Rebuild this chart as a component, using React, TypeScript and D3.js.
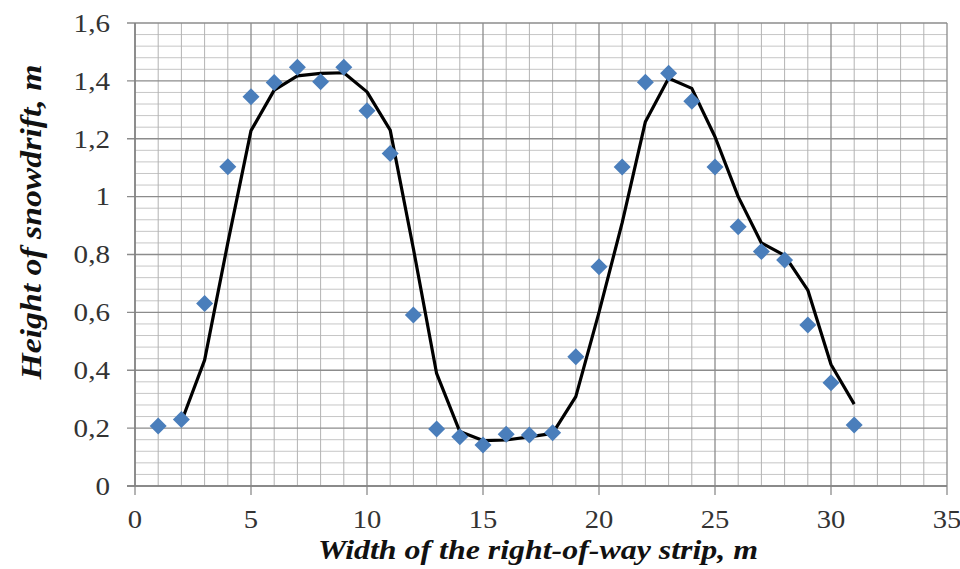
import React from "react";
import * as d3 from "d3";

// Measured snowdrift heights along the strip
const pointX = [1, 2, 3, 4, 5, 6, 7, 8, 9, 10, 11, 12, 13, 14, 15, 16, 17, 18, 19, 20, 21, 22, 23, 24, 25, 26, 27, 28, 29, 30, 31];
const pointY = [0.207, 0.23, 0.631, 1.103, 1.345, 1.394, 1.447, 1.397, 1.447, 1.297, 1.149, 0.591, 0.197, 0.17, 0.142, 0.179, 0.176, 0.184, 0.447, 0.758, 1.102, 1.395, 1.426, 1.33, 1.102, 0.896, 0.81, 0.781, 0.556, 0.357, 0.211];

// Modelled profile
const lineX = [2, 3, 4, 5, 6, 7, 8, 9, 10, 11, 12, 13, 14, 15, 16, 17, 18, 19, 20, 21, 22, 23, 24, 25, 26, 27, 28, 29, 30, 31];
const lineY = [0.222, 0.435, 0.84, 1.228, 1.368, 1.417, 1.426, 1.428, 1.362, 1.23, 0.82, 0.389, 0.188, 0.157, 0.159, 0.17, 0.182, 0.309, 0.6, 0.91, 1.259, 1.409, 1.374, 1.207, 1.0, 0.84, 0.797, 0.677, 0.42, 0.283];

const xTicks = [0, 5, 10, 15, 20, 25, 30, 35];
const yTicks = [0, 0.2, 0.4, 0.6, 0.8, 1, 1.2, 1.4, 1.6];

const xTitle = "Width of the right-of-way strip, m";
const yTitle = "Height of snowdrift, m";

const W = 960;
const H = 569;
const left = 135;
const right = 947;
const top = 23;
const bottom = 486;

const fmt = (v: number) => String(Math.round(v * 10) / 10).replace(".", ",");

const serif: React.CSSProperties = { fontFamily: '"Liberation Serif", "Times New Roman", Times, serif' };

export default function App() {
  const x = d3.scaleLinear().domain([0, 35]).range([left, right]);
  const y = d3.scaleLinear().domain([0, 1.6]).range([bottom, top]);

  const minorX = d3.range(0, 36, 1).filter((v) => v % 5 !== 0);
  const minorY = d3.range(0, 41, 1).map((i) => i * 0.04).filter((_, i) => i % 5 !== 0);

  const line = d3
    .line<number>()
    .x((_, i) => x(lineX[i]))
    .y((d) => y(d));

  const diamond = 8.5;

  return (
    <svg
      width={W}
      height={H}
      style={{ position: "absolute", left: 0, top: 0, background: "#fff" }}
    >
      <rect width={W} height={H} fill="#fff" />
      {/* minor grid */}
      {minorY.map((v, i) => (
        <line key={"my" + i} x1={left} x2={right} y1={y(v)} y2={y(v)} stroke="#c6c6c6" strokeWidth={1} />
      ))}
      {minorX.map((v) => (
        <line key={"mx" + v} x1={x(v)} x2={x(v)} y1={top} y2={bottom} stroke="#b3b3b3" strokeWidth={1} />
      ))}
      {/* major grid */}
      {yTicks.map((v) => (
        <line key={"gy" + v} x1={left - 8} x2={right} y1={y(v)} y2={y(v)} stroke="#8c8c8c" strokeWidth={1.3} />
      ))}
      {xTicks.map((v) => (
        <line key={"gx" + v} x1={x(v)} x2={x(v)} y1={top} y2={bottom + 9} stroke="#8c8c8c" strokeWidth={1.3} />
      ))}
      {/* axes */}
      <line x1={left} x2={left} y1={top} y2={bottom} stroke="#808080" strokeWidth={1.5} />
      <line x1={left - 8} x2={right} y1={bottom} y2={bottom} stroke="#808080" strokeWidth={1.5} />

      {/* tick labels */}
      {yTicks.map((v) => (
        <text
          key={"ty" + v}
          transform={`translate(110,${y(v)}) scale(1.12,1)`}
          dy="0.34em"
          textAnchor="end"
          fontSize={26}
          fill="#333"
          style={serif}
        >
          {fmt(v)}
        </text>
      ))}
      {xTicks.map((v) => (
        <text
          key={"tx" + v}
          transform={`translate(${x(v)},528) scale(1.1,1)`}
          textAnchor="middle"
          fontSize={26}
          fill="#333"
          style={serif}
        >
          {v}
        </text>
      ))}

      {/* profile line */}
      <path d={line(lineY) || ""} fill="none" stroke="#000" strokeWidth={3.2} strokeLinejoin="round" />

      {/* measured points */}
      {pointY.map((v, i) => {
        const cx = x(pointX[i]);
        const cy = y(v);
        return (
          <path
            key={"p" + i}
            d={`M${cx},${cy - diamond}L${cx + diamond},${cy}L${cx},${cy + diamond}L${cx - diamond},${cy}Z`}
            fill="#4a7ebb"
          />
        );
      })}

      {/* axis titles */}
      <text
        x={538}
        y={559}
        textAnchor="middle"
        fontSize={28}
        fontWeight="bold"
        fontStyle="italic"
        fill="#111"
        textLength={440}
        lengthAdjust="spacingAndGlyphs"
        style={serif}
      >
        {xTitle}
      </text>
      <text
        transform={`translate(41,222) rotate(-90)`}
        textAnchor="middle"
        fontSize={30}
        fontWeight="bold"
        fontStyle="italic"
        fill="#111"
        textLength={315}
        lengthAdjust="spacingAndGlyphs"
        style={serif}
      >
        {yTitle}
      </text>
    </svg>
  );
}
